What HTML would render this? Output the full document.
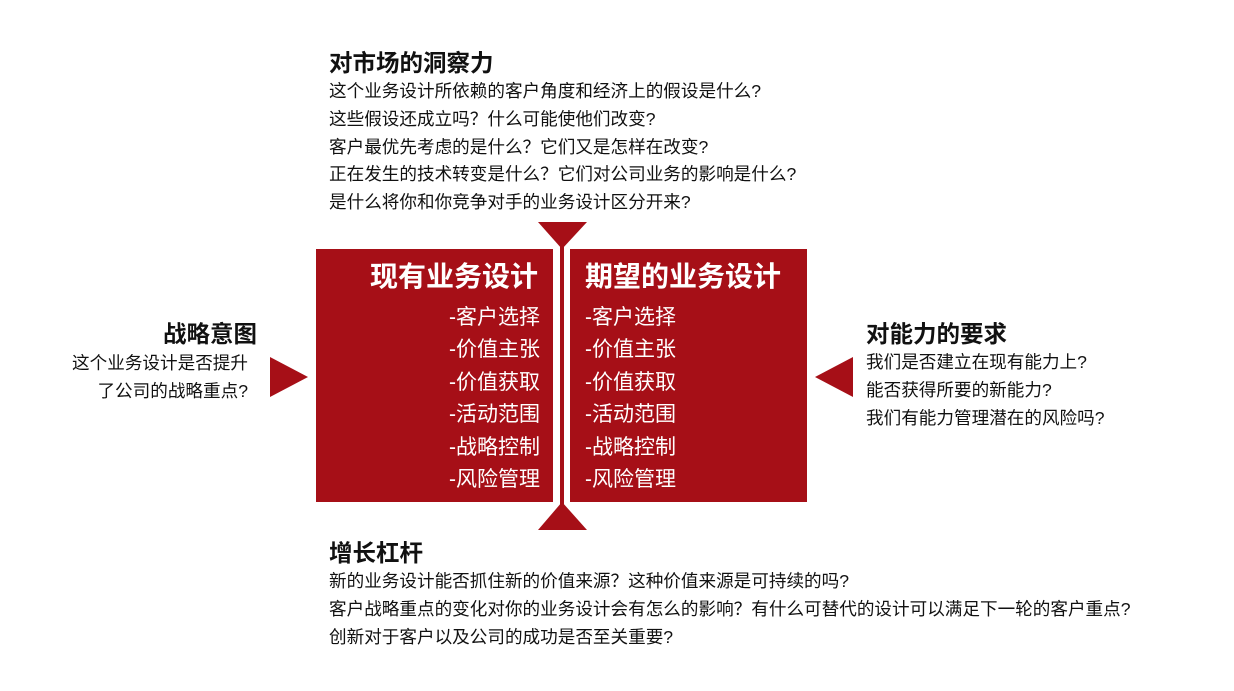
<!DOCTYPE html>
<html><head><meta charset="utf-8"><style>
body{margin:0;width:1234px;height:691px;background:#fff;position:relative;overflow:hidden;font-family:"Liberation Sans","Noto Sans CJK SC",sans-serif;color:#111}
.a{position:absolute;white-space:nowrap}
.h{font-weight:bold;font-size:23.5px;line-height:28px}
.t{font-size:17.6px;line-height:27.8px}
.box{position:absolute;top:249px;height:253px;background:#a60f17;color:#fff}
.ti{position:absolute;top:6px;font-size:28px;font-weight:bold}
.it{position:absolute;top:53px;font-size:21px;line-height:32.4px}
</style></head><body>
<div class="a h" style="left:329px;top:49px">对市场的洞察力</div>
<div class="a t" style="left:329px;top:78px">这个业务设计所依赖的客户角度和经济上的假设是什么?<br>这些假设还成立吗？什么可能使他们改变?<br>客户最优先考虑的是什么？它们又是怎样在改变?<br>正在发生的技术转变是什么？它们对公司业务的影响是什么?<br>是什么将你和你竞争对手的业务设计区分开来?</div>
<div class="a h" style="left:163px;top:320px">战略意图</div>
<div class="a t" style="left:60px;top:350px;text-align:right;width:188px">这个业务设计是否提升<br>了公司的战略重点?</div>
<div class="a h" style="left:866px;top:320px">对能力的要求</div>
<div class="a t" style="left:866px;top:349px">我们是否建立在现有能力上?<br>能否获得所要的新能力?<br>我们有能力管理潜在的风险吗?</div>
<div class="a h" style="left:329px;top:539px">增长杠杆</div>
<div class="a t" style="left:329px;top:568px">新的业务设计能否抓住新的价值来源？这种价值来源是可持续的吗?<br>客户战略重点的变化对你的业务设计会有怎么的影响？有什么可替代的设计可以满足下一轮的客户重点?<br>创新对于客户以及公司的成功是否至关重要?</div>
<div class="box" style="left:316px;width:237px"><div class="ti" style="right:15px">现有业务设计</div><div class="it" style="right:13px;text-align:right">-客户选择<br>-价值主张<br>-价值获取<br>-活动范围<br>-战略控制<br>-风险管理</div></div>
<div class="box" style="left:570px;width:237px"><div class="ti" style="left:15px">期望的业务设计</div><div class="it" style="left:15px">-客户选择<br>-价值主张<br>-价值获取<br>-活动范围<br>-战略控制<br>-风险管理</div></div>
<svg class="a" style="left:0;top:0" width="1234" height="691">
<rect x="560" y="240" width="4" height="272" fill="#a60f17"/>
<polygon points="538,222 587,222 562,249" fill="#a60f17"/>
<polygon points="562,502 538,530 587,530" fill="#a60f17"/>
<polygon points="270,357 308,377 270,397" fill="#a60f17"/>
<polygon points="853,357 815,377 853,397" fill="#a60f17"/>
</svg>
</body></html>
